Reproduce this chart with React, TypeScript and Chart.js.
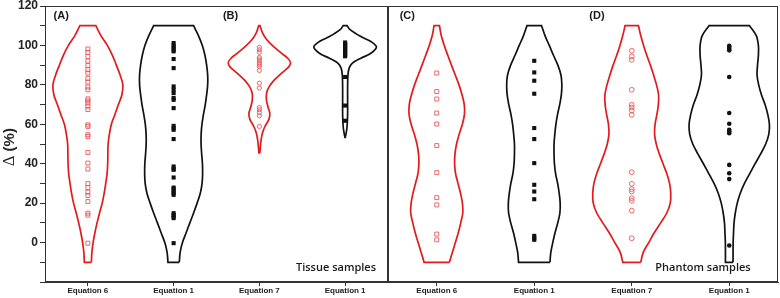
import React, { useEffect, useRef } from "react";
import { Chart, registerables } from "chart.js";
Chart.register(...registerables);

// ---------- categories & ticks ----------
const tissueCategories = ["Equation 6", "Equation 1", "Equation 7", "Equation 1"];
const phantomCategories = ["Equation 6", "Equation 1", "Equation 7", "Equation 1"];
const yMin = -20;
const yMax = 120;
const yTitleSymbol = "Δ";
const yTitleUnit = " (%)";

// ---------- violin outlines (half widths in category units) ----------
const fullLevels = [-10, -5, 0, 5, 10, 15, 20, 25, 30, 35, 40, 45, 50, 55, 60, 65, 70, 75, 80, 85, 90, 95, 100, 105, 110];

const tissueEq6Width = [0.041, 0.047, 0.061, 0.082, 0.107, 0.136, 0.167, 0.19, 0.208, 0.224, 0.231, 0.233, 0.236, 0.251, 0.274, 0.315, 0.356, 0.397, 0.408, 0.376, 0.332, 0.286, 0.227, 0.152, 0.093];
const tissueEq1aWidth = [0.066, 0.076, 0.103, 0.146, 0.189, 0.233, 0.274, 0.311, 0.332, 0.338, 0.336, 0.327, 0.32, 0.321, 0.33, 0.348, 0.369, 0.385, 0.397, 0.397, 0.385, 0.365, 0.335, 0.289, 0.233];

const tissueEq7Levels = [45.5, 49, 52, 55.5, 59, 62.5, 65.5, 69, 72.5, 76, 79, 82.5, 86, 89.5, 91.5, 93.5, 96, 99.5, 103, 106.5, 110];
const tissueEq7Width = [0.006, 0.012, 0.02, 0.035, 0.066, 0.111, 0.122, 0.099, 0.082, 0.085, 0.113, 0.175, 0.26, 0.35, 0.362, 0.33, 0.26, 0.163, 0.085, 0.035, 0.008];

const tissueEq1bLevels = [53, 56, 59, 65, 72, 79, 85, 88.5, 91, 93.5, 96, 99.2, 102, 104.5, 108, 110];
const tissueEq1bWidth = [0.0, 0.014, 0.023, 0.029, 0.029, 0.029, 0.033, 0.047, 0.085, 0.183, 0.3, 0.365, 0.3, 0.183, 0.058, 0.023];

const phantomEq6Width = [0.13, 0.16, 0.191, 0.221, 0.246, 0.267, 0.263, 0.244, 0.218, 0.193, 0.183, 0.187, 0.203, 0.23, 0.263, 0.284, 0.282, 0.259, 0.228, 0.19, 0.151, 0.113, 0.077, 0.046, 0.028];
const phantomEq1aWidth = [0.161, 0.17, 0.19, 0.213, 0.241, 0.263, 0.266, 0.256, 0.24, 0.219, 0.207, 0.203, 0.203, 0.211, 0.222, 0.239, 0.261, 0.278, 0.283, 0.274, 0.242, 0.197, 0.154, 0.11, 0.075];
const phantomEq7Width = [0.092, 0.118, 0.174, 0.231, 0.297, 0.359, 0.395, 0.4, 0.388, 0.359, 0.321, 0.283, 0.251, 0.234, 0.239, 0.258, 0.273, 0.275, 0.254, 0.224, 0.191, 0.154, 0.121, 0.092, 0.069];
const phantomEq1bWidth = [0.039, 0.039, 0.04, 0.044, 0.049, 0.062, 0.082, 0.113, 0.156, 0.21, 0.265, 0.322, 0.374, 0.406, 0.412, 0.395, 0.367, 0.33, 0.302, 0.285, 0.29, 0.299, 0.299, 0.277, 0.208];

// ---------- sample values (Δ %) ----------
const tissueEq6Values = [98.2, 96.5, 94.4, 92.1, 89.9, 87.7, 86, 83.3, 81.4, 78.9, 77.5, 72.9, 71.9, 70.8, 69.2, 67.5, 59.7, 58.9, 54.7, 53.8, 45.7, 40.3, 37.3, 29.9, 27.9, 25.6, 23.9, 20.8, 14.9, 13.9, -0.3];
const tissueEq1aValues = [101.2, 99.8, 99, 97.8, 97, 93.1, 88.5, 79.2, 77.5, 75.8, 73.3, 72.4, 68.2, 59.2, 58.1, 57.2, 52.5, 38.6, 37.4, 36.9, 33, 27.9, 27.1, 25.9, 25.1, 24.2, 14.9, 14, 13.2, 12.4, -0.3];
const tissueEq7Values = [99, 97.8, 96.5, 93.9, 93.1, 92.2, 91.1, 90.2, 89.3, 87.3, 80.9, 78.4, 68.5, 67.4, 66, 64.3, 58.9];
const tissueEq1bValues = [101.5, 100.8, 100.1, 99.4, 98.7, 98, 97.3, 96.6, 95.9, 95.2, 94.5, 84, 69.5, 61.8];
const phantomEq6Values = [86, 76.6, 72.8, 65.7, 60.1, 49.2, 35.5, 22.8, 19.1, 4.3, 1.4];
const phantomEq1aValues = [92.2, 86.3, 82.1, 75.5, 58.1, 52.5, 40.3, 29.3, 25.9, 22, 3.4, 2.2, 1.4];
const phantomEq7Values = [97.3, 94.4, 92.7, 77.5, 69.9, 68.5, 66.9, 64.8, 35.7, 29.8, 27.1, 25.9, 22.5, 21.2, 16.2, 2.2];
const phantomEq1bValues = [99.8, 99.2, 98.3, 97.5, 84, 65.7, 60.3, 57.2, 56.3, 55.5, 39.4, 35.2, 32.2, -1.5];

const RED = "#e31a1c";
const RED_MARK = "#e65a5c";
const BLACK = "#111111";

function outline(center: number, levels: number[], hw: number[]) {
  const right = levels.map((y, i) => ({ x: center + hw[i], y }));
  const left = levels.map((y, i) => ({ x: center - hw[i], y })).reverse();
  const n = right.length;
  return [right[0], ...right, right[n - 1], left[0], ...left, left[n - 1], right[0]];
}

function violinDataset(center: number, levels: number[], hw: number[], color: string) {
  return {
    data: outline(center, levels, hw),
    showLine: true,
    borderColor: color,
    borderWidth: 1.7,
    pointRadius: 0,
    tension: 0.35,
    fill: false,
    order: 2,
  };
}

function pointsDataset(center: number, values: number[], style: string, color: string, filled: boolean, radius: number) {
  return {
    data: values.map((v) => ({ x: center, y: v })),
    showLine: false,
    pointStyle: style,
    pointRadius: radius,
    pointBorderColor: color,
    pointBackgroundColor: filled ? color : "rgba(0,0,0,0)",
    pointBorderWidth: filled ? 0 : 0.9,
    order: 1,
  };
}

type Txt = { text: string; x: number; y: number; align: CanvasTextAlign; font: string };

function framePlugin(texts: Txt[], withTitle: boolean) {
  return {
    id: "frameAndTexts",
    afterDraw(chart: any) {
      const { ctx, chartArea: a, scales } = chart;
      ctx.save();
      ctx.strokeStyle = "#333333";
      ctx.lineWidth = 1;
      ctx.strokeRect(Math.round(a.left) + 0.5, Math.round(a.top) + 0.5, Math.round(a.right - a.left) - 1, Math.round(a.bottom - a.top) - 1);
      ctx.fillStyle = "#1a1a1a";
      ctx.textBaseline = "middle";
      texts.forEach((t) => {
        ctx.font = t.font;
        ctx.textAlign = t.align;
        ctx.fillText(t.text, scales.x.getPixelForValue(t.x), scales.y.getPixelForValue(t.y));
      });
      if (withTitle) {
        const symFont = "16px 'Liberation Serif', serif";
        const unitFont = "bold 15px 'Liberation Sans', Arial, sans-serif";
        ctx.font = symFont;
        const w1 = ctx.measureText(yTitleSymbol).width;
        ctx.font = unitFont;
        const w2 = ctx.measureText(yTitleUnit).width;
        const total = w1 + w2;
        ctx.translate(9.5, (a.top + a.bottom) / 2 + 3);
        ctx.rotate(-Math.PI / 2);
        ctx.textAlign = "left";
        ctx.fillStyle = "#222";
        ctx.font = symFont;
        ctx.fillText(yTitleSymbol, -total / 2, 0);
        ctx.font = unitFont;
        ctx.fillText(yTitleUnit, -total / 2 + w1, 0);
      }
      ctx.restore();
    },
  };
}

function xAxis(categories: string[]) {
  return {
    type: "linear",
    min: 0.5,
    max: 4.5,
    afterBuildTicks: (s: any) => {
      s.ticks = [1, 2, 3, 4].map((v) => ({ value: v }));
    },
    afterFit: (s: any) => {
      s.height = 16;
    },
    ticks: {
      callback: (v: number) => categories[Math.round(v) - 1] ?? "",
      font: { family: "Liberation Sans", size: 8, weight: "bold", lineHeight: 1 },
      color: "#222",
      padding: 1,
      maxRotation: 0,
      autoSkip: false,
    },
    grid: { drawOnChartArea: false, drawTicks: true, tickLength: 4, tickColor: "#333", color: "#333" },
    border: { display: true, color: "#333", width: 1 },
  };
}

const FONT_LABEL = "bold 11px 'Liberation Sans', Arial, sans-serif";
const FONT_NOTE = "600 11px 'Open Sans', sans-serif";

function TissueChart() {
  const ref = useRef<HTMLCanvasElement>(null);
  useEffect(() => {
    const chart = new Chart(ref.current as HTMLCanvasElement, {
      type: "scatter",
      data: {
        datasets: [
          pointsDataset(1, tissueEq6Values, "rect", RED_MARK, false, 2.8),
          pointsDataset(2, tissueEq1aValues, "rect", BLACK, true, 2.9),
          pointsDataset(3, tissueEq7Values, "circle", RED_MARK, false, 2.1),
          pointsDataset(4, tissueEq1bValues, "rect", BLACK, true, 2.9),
          violinDataset(1, fullLevels, tissueEq6Width, RED),
          violinDataset(2, fullLevels, tissueEq1aWidth, BLACK),
          violinDataset(3, tissueEq7Levels, tissueEq7Width, RED),
          violinDataset(4, tissueEq1bLevels, tissueEq1bWidth, BLACK),
        ] as any,
      },
      options: {
        responsive: false,
        animation: false,
        events: [],
        layout: { autoPadding: false, padding: { top: 6, right: 2, left: 0, bottom: 0 } },
        plugins: { legend: { display: false }, tooltip: { enabled: false } },
        scales: {
          x: xAxis(tissueCategories) as any,
          y: {
            type: "linear",
            min: yMin,
            max: yMax,
            afterFit: (s: any) => {
              s.width = 45;
              s.paddingTop = 0;
              s.paddingBottom = 0;
            },
            ticks: {
              stepSize: 10,
              callback: (v: number) => (v >= 0 && v % 20 === 0 ? String(v) : ""),
              font: { family: "Liberation Sans", size: 12, weight: "bold", lineHeight: 1 },
              color: "#222",
              padding: 2,
            },
            grid: { drawOnChartArea: false, drawTicks: true, tickLength: 5, tickColor: "#333", color: "#333" },
            border: { display: true, color: "#333", width: 1 },
          },
        },
      },
      plugins: [
        framePlugin(
          [
            { text: "(A)", x: 0.6, y: 115, align: "left", font: FONT_LABEL },
            { text: "(B)", x: 2.575, y: 115, align: "left", font: FONT_LABEL },
            { text: "Tissue samples", x: 4.36, y: -12.8, align: "right", font: FONT_NOTE },
          ],
          true
        ),
      ],
    } as any);
    return () => chart.destroy();
  }, []);
  return <canvas ref={ref} width={390} height={298} style={{ position: "absolute", left: 0, top: 0 }} />;
}

function PhantomChart() {
  const ref = useRef<HTMLCanvasElement>(null);
  useEffect(() => {
    const chart = new Chart(ref.current as HTMLCanvasElement, {
      type: "scatter",
      data: {
        datasets: [
          pointsDataset(1, phantomEq6Values, "rect", RED_MARK, false, 2.8),
          pointsDataset(2, phantomEq1aValues, "rect", BLACK, true, 2.9),
          pointsDataset(3, phantomEq7Values, "circle", RED_MARK, false, 2.4),
          pointsDataset(4, phantomEq1bValues, "circle", BLACK, true, 2.3),
          violinDataset(1, fullLevels, phantomEq6Width, RED),
          violinDataset(2, fullLevels, phantomEq1aWidth, BLACK),
          violinDataset(3, fullLevels, phantomEq7Width, RED),
          violinDataset(4, fullLevels, phantomEq1bWidth, BLACK),
        ] as any,
      },
      options: {
        responsive: false,
        animation: false,
        events: [],
        layout: { autoPadding: false, padding: { top: 6, right: 2, left: 1, bottom: 0 } },
        plugins: { legend: { display: false }, tooltip: { enabled: false } },
        scales: {
          x: xAxis(phantomCategories) as any,
          y: { type: "linear", min: yMin, max: yMax, display: false },
        },
      },
      plugins: [
        framePlugin(
          [
            { text: "(C)", x: 0.62, y: 115, align: "left", font: FONT_LABEL },
            { text: "(D)", x: 2.565, y: 115, align: "left", font: FONT_LABEL },
            { text: "Phantom samples", x: 4.22, y: -12.8, align: "right", font: FONT_NOTE },
          ],
          false
        ),
      ],
    } as any);
    return () => chart.destroy();
  }, []);
  return <canvas ref={ref} width={393} height={298} style={{ position: "absolute", left: 387, top: 0 }} />;
}

export default function App() {
  return (
    <div style={{ position: "fixed", left: 0, top: 0, width: 780, height: 298, background: "#fff", overflow: "hidden" }}>
      <TissueChart />
      <PhantomChart />
    </div>
  );
}
